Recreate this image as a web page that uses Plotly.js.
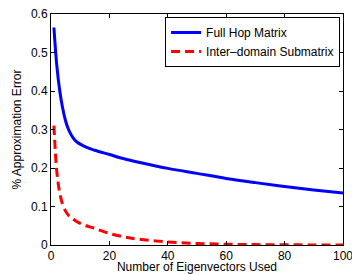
<!DOCTYPE html>
<html><head><meta charset="utf-8">
<script src="https://cdn.plot.ly/plotly-3.0.1.min.js"></script>
<style>html,body{margin:0;padding:0;background:#fff}#c{width:352px;height:274px}</style>
</head><body><div id="c"></div>
<script>
const xVals = [1,2,3,4,5,6,7,8,9,10,12,15,20,25,30,40,50,60,70,80,90,100];
const fullHop = [0.565,0.465,0.400,0.355,0.322,0.300,0.285,0.274,0.267,0.262,0.254,0.246,0.235,0.224,0.215,0.199,0.186,0.173,0.162,0.152,0.143,0.135];
const interDomain = [0.31,0.19,0.135,0.105,0.088,0.077,0.070,0.065,0.060,0.056,0.050,0.043,0.030,0.021,0.015,0.008,0.004,0.002,0.001,0.0005,0.0002,0.0001];
const seriesNames = ['Full Hop Matrix','Inter\u2013domain Submatrix'];

const traces = [
  {x:xVals, y:fullHop, name:seriesNames[0], mode:'lines', line:{color:'#0000ff', width:3, shape:'spline'}},
  {x:xVals, y:interDomain, name:seriesNames[1], mode:'lines', line:{color:'#ff0000', width:3, dash:'9px,5px', shape:'spline'}}
];
const FF = 'Liberation Sans, Arial, sans-serif';
const axFont = {family:FF, size:12, color:'#000'};
const layout = {
  width:352, height:274,
  margin:{l:51, r:9, t:14, b:29},
  paper_bgcolor:'#fff', plot_bgcolor:'#fff',
  font: axFont,
  showlegend:true,
  legend:{x:0.99, xanchor:'right', y:0.987, yanchor:'top', bordercolor:'#000', borderwidth:1, bgcolor:'#fff',
    font:{family:FF, size:12, color:'#000'}, tracegroupgap:0, itemwidth:30},
  xaxis:{range:[0,100], dtick:20, tick0:0, ticks:'inside', ticklen:4, tickcolor:'#000', showline:true, linecolor:'#000', linewidth:1, mirror:'ticks', showgrid:false, zeroline:false, ticklabeloverflow:'allow',
    title:{text:'Number of Eigenvectors Used', standoff:0, font:{family:FF, size:12, color:'#000'}}, tickfont:axFont},
  yaxis:{range:[0,0.6], dtick:0.1, tick0:0, ticks:'inside', ticklen:4, tickcolor:'#000', showline:true, linecolor:'#000', linewidth:1, mirror:'ticks', showgrid:false, zeroline:false,
    title:{text:'% Approximation Error', standoff:6, font:{family:FF, size:12, color:'#000'}}, tickfont:axFont}
};
Plotly.newPlot('c', traces, layout, {displayModeBar:false, staticPlot:true});
</script></body></html>
